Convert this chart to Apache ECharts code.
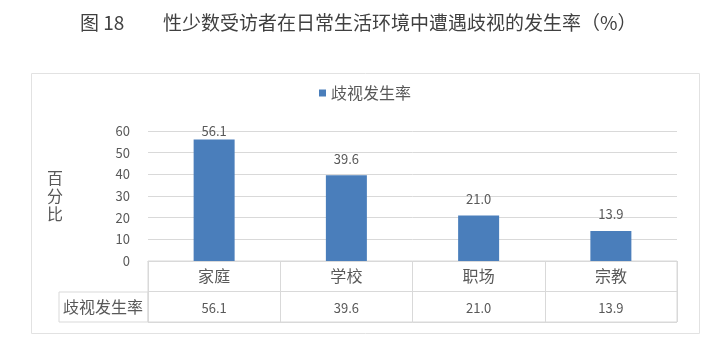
<!DOCTYPE html>
<html>
<head>
<meta charset="utf-8">
<script src="https://cdn.jsdelivr.net/npm/echarts@6/dist/echarts.min.js"></script>
<style>
html,body{margin:0;padding:0;background:#fff;}
#c{width:720px;height:351px;}
</style>
</head>
<body>
<div id="c"></div>
<script>
const figureNo = '图 18';
const titleText = '性少数受访者在日常生活环境中遭遇歧视的发生率（%）';
const categories = ['家庭', '学校', '职场', '宗教'];
const seriesName = '歧视发生率';
const values = [56.1, 39.6, 21.0, 13.9];
const yAxisName = '百分比';
const yTicks = { min: 0, max: 60, interval: 10 };

const FONT = '"Noto Sans CJK SC", "Noto Sans", sans-serif';
const TXT = '#595959';
const LINE = '#D9D9D9';
const PLOT_TOP = 131;

const chart = echarts.init(document.getElementById('c'), null, { renderer: 'canvas' });
chart.setOption({
  backgroundColor: '#ffffff',
  textStyle: { fontFamily: FONT },
  animation: false,
  title: [
    { text: figureNo, left: 80, top: 13, padding: 0,
      textStyle: { fontSize: 19, fontWeight: 'normal', color: '#404040', fontFamily: FONT } },
    { text: titleText, left: 163, top: 13, padding: 0,
      textStyle: { fontSize: 19, fontWeight: 'normal', color: '#404040', fontFamily: FONT } }
  ],
  graphic: [
    { type: 'rect', left: 29, top: 71, z: -1, silent: true,
      shape: { width: 668, height: 260 },
      style: { fill: 'none', stroke: '#E2E2E2', lineWidth: 1 } }
  ],
  legend: {
    data: [seriesName], left: 319, top: 85, padding: 0,
    icon: 'rect', itemWidth: 7, itemHeight: 7,
    textStyle: { fontSize: 16, color: TXT, fontFamily: FONT }
  },
  grid: [
    { left: 148, top: PLOT_TOP, width: 529, height: 130 },
    { left: 148, top: 261, width: 529, height: 61, show: true,
      borderColor: LINE, borderWidth: 1, backgroundColor: 'transparent' },
    { left: 59, top: 292, width: 89, height: 30, show: true,
      borderColor: LINE, borderWidth: 1, backgroundColor: 'transparent' }
  ],
  xAxis: [
    { type: 'category', gridIndex: 0, data: categories,
      axisLine: { show: true, lineStyle: { color: LINE } },
      axisTick: { show: false },
      axisLabel: { fontSize: 16, color: TXT, margin: 7, fontFamily: FONT } },
    { type: 'category', gridIndex: 1, data: categories, position: 'bottom',
      axisLine: { show: false }, axisTick: { show: false },
      splitLine: { show: true, lineStyle: { color: LINE } },
      axisLabel: { inside: true, margin: 7, fontSize: 13, color: TXT, fontFamily: FONT,
        formatter: (v, i) => values[i].toFixed(1) } },
    { type: 'value', gridIndex: 2, show: false }
  ],
  yAxis: [
    { type: 'value', gridIndex: 0, min: yTicks.min, max: yTicks.max, interval: yTicks.interval,
      axisLine: { show: false }, axisTick: { show: false },
      splitLine: { lineStyle: { color: LINE } },
      axisLabel: { fontSize: 13, color: TXT, margin: 18, fontFamily: FONT },
      name: yAxisName.split('').join('\n'), nameLocation: 'middle', nameRotate: 0, nameGap: 85,
      nameTextStyle: { fontSize: 16, color: TXT, lineHeight: 18, fontFamily: FONT } },
    { type: 'category', gridIndex: 1, data: ['', seriesName], inverse: true,
      axisLine: { show: false }, axisTick: { show: false },
      splitLine: { show: true, lineStyle: { color: LINE } },
      axisLabel: { fontSize: 16, color: TXT, margin: 5, fontFamily: FONT } },
    { type: 'value', gridIndex: 2, show: false }
  ],
  series: [
    { name: seriesName, type: 'bar', xAxisIndex: 0, yAxisIndex: 0, data: values,
      barWidth: 41, itemStyle: { color: '#4A7EBB' },
      label: { show: true, position: 'top', distance: 10, fontSize: 13, color: TXT,
        fontFamily: FONT, formatter: p => p.value.toFixed(1) },
      labelLayout: function (params) {
        const r = params.labelRect;
        if (r.y + r.height / 2 < PLOT_TOP) {
          return { x: r.x + r.width / 2, y: PLOT_TOP, align: 'center', verticalAlign: 'middle' };
        }
        return {};
      }
    }
  ]
});
</script>
</body>
</html>
